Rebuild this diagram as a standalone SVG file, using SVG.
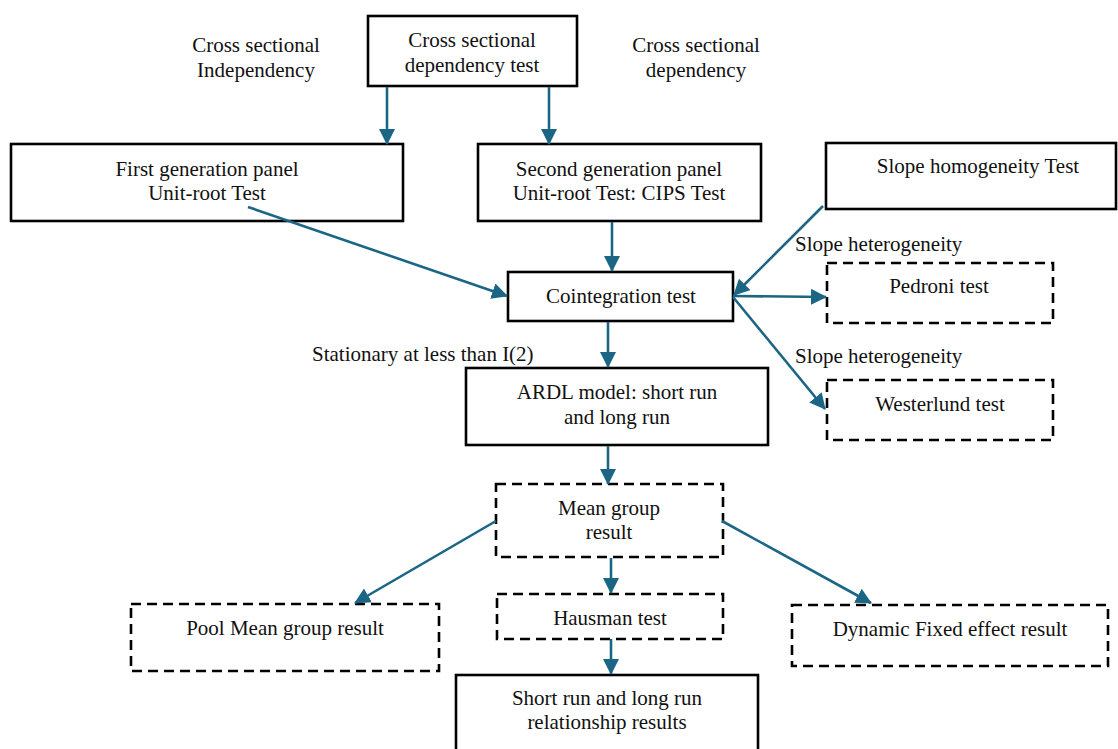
<svg xmlns="http://www.w3.org/2000/svg" width="1118" height="749" viewBox="0 0 1118 749">
<style>
  .box { fill: #ffffff; stroke: #000000; stroke-width: 2.6; }
  .dash { fill: #ffffff; stroke: #000000; stroke-width: 2.6; stroke-dasharray: 10 6; }
  .t { font-family: "Liberation Serif", "Times New Roman", serif; font-size: 21px; fill: #111111; text-anchor: middle; }
  .tl { font-family: "Liberation Serif", "Times New Roman", serif; font-size: 21px; fill: #111111; text-anchor: start; }
  .c { stroke: #1b6585; stroke-width: 2.6; fill: none; marker-end: url(#arr); }
</style>
<defs>
  <marker id="arr" viewBox="0 0 16 16" markerWidth="16" markerHeight="16" refX="15" refY="8" orient="auto" markerUnits="userSpaceOnUse">
    <path d="M0,0 L16,8 L0,16 Z" fill="#1b6585"/>
  </marker>
</defs>
<rect width="1118" height="749" fill="#ffffff"/>

<g id="label-independency">
  <text class="t" x="256" y="52">Cross sectional</text>
  <text class="t" x="256" y="77">Independency</text>
</g>
<g id="label-dependency">
  <text class="t" x="696" y="52">Cross sectional</text>
  <text class="t" x="696" y="77">dependency</text>
</g>
<g id="label-slope-het-1">
  <text class="tl" x="795" y="251">Slope heterogeneity</text>
</g>
<g id="label-slope-het-2">
  <text class="tl" x="795" y="363">Slope heterogeneity</text>
</g>
<g id="label-stationary">
  <text class="tl" x="312" y="361">Stationary at less than I(2)</text>
</g>

<g id="node-csd-test">
  <rect class="box" x="368" y="16" width="209" height="70"/>
  <text class="t" x="472" y="47">Cross sectional</text>
  <text class="t" x="472" y="72">dependency test</text>
</g>
<g id="node-first-gen">
  <rect class="box" x="11" y="144" width="392" height="77"/>
  <text class="t" x="207" y="176">First generation panel</text>
  <text class="t" x="207" y="200">Unit-root Test</text>
</g>
<g id="node-second-gen">
  <rect class="box" x="478" y="144" width="283" height="77"/>
  <text class="t" x="619" y="176">Second generation panel</text>
  <text class="t" x="619" y="200">Unit-root Test: CIPS Test</text>
</g>
<g id="node-slope-homogeneity">
  <rect class="box" x="826" y="143" width="290" height="66"/>
  <text class="t" x="978" y="173">Slope homogeneity Test</text>
</g>
<g id="node-cointegration">
  <rect class="box" x="508" y="272" width="225" height="49"/>
  <text class="t" x="621" y="303">Cointegration test</text>
</g>
<g id="node-pedroni">
  <rect class="dash" x="827" y="263" width="226" height="60"/>
  <text class="t" x="939" y="293">Pedroni test</text>
</g>
<g id="node-westerlund">
  <rect class="dash" x="827" y="380" width="226" height="60"/>
  <text class="t" x="940" y="411">Westerlund test</text>
</g>
<g id="node-ardl">
  <rect class="box" x="466" y="368" width="302" height="77"/>
  <text class="t" x="617" y="399">ARDL model: short run</text>
  <text class="t" x="617" y="424">and long run</text>
</g>
<g id="node-mean-group">
  <rect class="dash" x="496" y="484" width="227" height="73"/>
  <text class="t" x="609" y="515">Mean group</text>
  <text class="t" x="609" y="539">result</text>
</g>
<g id="node-pool-mean">
  <rect class="dash" x="131" y="604" width="308" height="67"/>
  <text class="t" x="285" y="635">Pool Mean group result</text>
</g>
<g id="node-hausman">
  <rect class="dash" x="497" y="594" width="226" height="45"/>
  <text class="t" x="610" y="625">Hausman test</text>
</g>
<g id="node-dynamic-fe">
  <rect class="dash" x="792" y="605" width="316" height="61"/>
  <text class="t" x="950" y="636">Dynamic Fixed effect result</text>
</g>
<g id="node-short-long">
  <rect class="box" x="456" y="675" width="302" height="90"/>
  <text class="t" x="607" y="705">Short run and long run</text>
  <text class="t" x="607" y="729">relationship results</text>
</g>

<g id="connectors">
  <line class="c" x1="387" y1="87" x2="387" y2="144"/>
  <line class="c" x1="549" y1="87" x2="549" y2="144"/>
  <line class="c" x1="612" y1="222" x2="612" y2="271"/>
  <line class="c" x1="248" y1="207" x2="507" y2="296"/>
  <line class="c" x1="823" y1="206" x2="734" y2="295"/>
  <line class="c" x1="733" y1="296" x2="826" y2="297"/>
  <line class="c" x1="733" y1="297" x2="825" y2="409"/>
  <line class="c" x1="608" y1="322" x2="608" y2="367"/>
  <line class="c" x1="608" y1="446" x2="608" y2="484"/>
  <line class="c" x1="496" y1="521" x2="355" y2="603"/>
  <line class="c" x1="722" y1="521" x2="871" y2="603"/>
  <line class="c" x1="611" y1="558" x2="611" y2="593"/>
  <line class="c" x1="611" y1="639" x2="611" y2="674"/>
</g>
</svg>
